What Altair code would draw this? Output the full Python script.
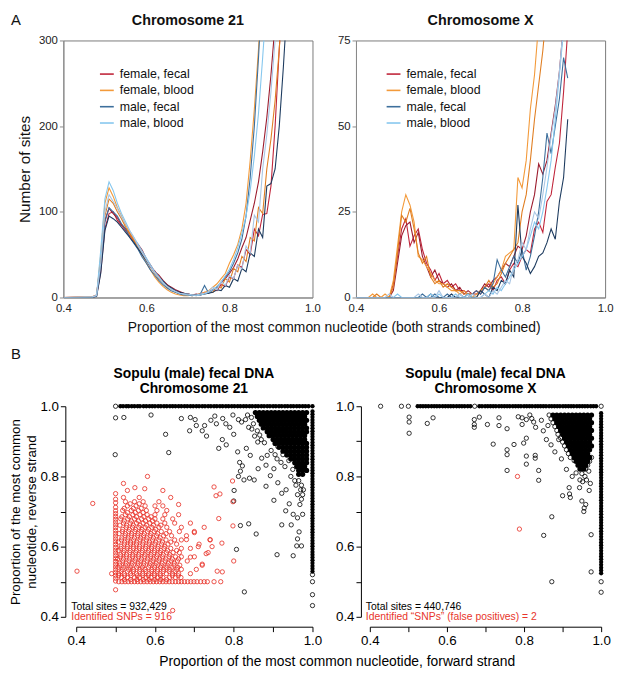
import altair as alt
import pandas as pd

FONT = "Liberation Sans"

# ---------------- Panel A: line data ----------------
GROUPS = ["female, fecal", "female, blood", "male, fecal", "male, blood"]
SERIES = ["female, fecal", "female, fecal 2", "female, blood", "female, blood 2",
          "male, fecal", "male, fecal 2", "male, blood", "male, blood 2"]
SERIES_COLORS = ["#c0253a", "#9c1c2e", "#f39a3a", "#e07e22",
                 "#3d6f9c", "#1d3b5f", "#86c7ee", "#a9c6e4"]

X21 = [0.40, 0.47, 0.48, 0.49, 0.50, 0.51, 0.52, 0.53, 0.54, 0.55, 0.56, 0.57, 0.58,
       0.59, 0.60, 0.61, 0.62, 0.63, 0.64, 0.65, 0.66, 0.67, 0.68, 0.69, 0.70, 0.71,
       0.72, 0.73, 0.74, 0.75, 0.76, 0.77, 0.78, 0.79, 0.80, 0.81, 0.82, 0.83, 0.84,
       0.85, 0.86, 0.87, 0.88, 0.89, 0.90, 0.91, 0.92, 0.93, 0.94, 0.95]
C21_FF1 = [0,0,2,30,80, 98,100,90,84,78, 72,66,60,50,44, 35,31,22,18,15, 10,8,6,5,4,
           3,3,4,6,5, 9,8,15,13,24, 22,38,35,56,50, 80,72,97,98,130, 200,290,380,460,540]
C21_FF2 = [0,1,3,45,90, 104,98,93,85,80, 75,68,62,55,45, 38,30,26,20,15, 12,9,7,5,4,
           3,4,3,5,7, 9,12,17,22,28, 35,45,58,70,90, 110,135,170,210,260, 320,400,480,560,640]
C21_FB1 = [0,1,2,50,110, 128,118,105,95,85, 76,68,58,50,40, 32,24,18,13,9, 6,4,3,2,2,
           3,2,4,6,8, 12,16,22,28,40, 50,62,80,110,160, 220,290,380,480,580, 680,780,880,980,1080]
C21_FB2 = [0,0,3,42,95, 115,110,100,92,82, 74,66,60,52,44, 36,28,22,17,12, 9,6,5,4,3,
           2,3,5,4,7, 6,13,11,22,18, 34,30,48,42,70, 66,105,98,150,185, 230,290,360,440,520]
C21_MF1 = [0,0,2,38,88, 105,100,95,86,80, 70,63,56,47,40, 32,26,20,15,11, 8,6,4,3,3,
           2,3,4,14,5, 9,12,18,24,30, 40,52,68,95,140, 200,280,370,460,560, 660,760,860,960,1060]
C21_MF2 = [0,0,1,28,78, 95,92,88,82,76, 70,64,57,50,43, 36,30,24,19,14, 11,8,6,5,4,
           3,3,3,4,5, 6,9,8,14,12, 22,19,34,30,52, 48,80,70,130,133, 150,200,270,350,440]
C21_MB1 = [0,0,3,55,115, 135,125,110,98,88, 78,70,62,54,46, 38,30,24,18,13, 10,7,5,4,3,
           3,2,3,4,6, 9,13,18,25,33, 44,58,75,95,125, 165,215,280,350,430, 510,600,690,780,870]
C21_MB2 = [0,1,2,40,100, 120,112,104,94,86, 78,70,60,52,44, 36,29,23,17,13, 9,7,5,4,4,
           3,3,4,5,7, 12,9,19,14,26, 22,38,33,60,52, 96,88,150,190,240, 300,370,450,530,610]

XX = [0.40, 0.43, 0.44, 0.45, 0.46, 0.47, 0.48, 0.49, 0.50, 0.51, 0.52, 0.53, 0.54,
      0.55, 0.56, 0.57, 0.58, 0.59, 0.60, 0.61, 0.62, 0.63, 0.64, 0.65, 0.66, 0.67,
      0.68, 0.69, 0.70, 0.71, 0.72, 0.73, 0.74, 0.75, 0.76, 0.77, 0.78, 0.79, 0.80,
      0.81, 0.82, 0.83, 0.84, 0.85, 0.86, 0.87, 0.88, 0.89, 0.90, 0.91]
CX_FF1 = [0,0,0,0,0, 0,0,4,12,20, 23,15,18,20,14, 10,8,5,7,4, 5,3,4,2,2,
          1,1,2,1,3, 4,2,5,6,4, 8,10,9,12,14, 13,20,22,19,28, 30,38,45,60,78]
CX_FF2 = [0,0,0,0,0, 0,0,2,10,18, 21,22,16,19,12, 9,6,8,5,4, 3,4,2,3,1,
          2,1,1,2,4, 3,5,6,8,10, 9,12,15,14,18, 25,30,39,36,40, 48,56,66,80,95]
CX_FB1 = [0,0,1,0,0, 1,0,5,15,25, 30,27,22,12,11, 9,7,5,4,4, 3,2,2,1,2,
          1,0,1,2,3, 2,4,6,8,12, 13,14,35,32,40, 55,65,80,95,110, 130,150,170,190,210]
CX_FB2 = [0,0,0,1,0, 0,0,3,13,24, 22,26,20,13,10, 12,6,4,5,3, 4,3,2,2,1,
          1,1,0,2,3, 5,3,4,7,10, 12,14,16,25,30, 40,52,62,72,85, 100,115,130,145,160]
CX_MF1 = [0,0,0,0,0, 0,0,0,0,0, 0,0,0,0,1, 0,0,1,0,0, 1,0,0,1,0,
          0,1,2,1,3, 2,4,11,8,6, 9,12,10,14,8, 12,18,25,35,48, 42,50,58,70,64]
CX_MF2 = [0,0,0,0,0, 0,0,0,0,0, 0,0,0,0,0, 0,1,0,0,0, 0,1,0,0,0,
          1,0,0,2,1, 0,3,2,5,4, 8,6,27,12,10, 7,9,12,13,16, 20,17,28,35,52]
CX_MB1 = [0,0,0,0,0, 0,0,0,1,0, 0,0,0,0,0, 0,1,0,1,0, 0,0,1,0,0,
          1,0,0,0,1, 2,1,3,2,4, 6,8,10,12,14, 18,22,20,25,32, 40,52,65,78,90]
CX_MB2 = [0,0,0,0,0, 0,1,0,0,0, 0,0,0,1,0, 0,0,0,2,0, 0,0,0,1,0,
          0,1,0,0,1, 0,2,1,3,5, 4,9,11,16,14, 20,25,23,30,38, 47,55,66,80,95]

# ---------------- Panel B: scatter data ----------------
B_TICKS = [0.4, 0.5, 0.6, 0.7, 0.8, 0.9, 1.0]

C21_TOP_X = [0.512, 0.519, 0.527, 0.533, 0.541, 0.548, 0.556, 0.562, 0.571, 0.578,
             0.586, 0.593, 0.600, 0.608, 0.615, 0.623, 0.630, 0.638, 0.645, 0.652, 0.660,
             0.667, 0.675, 0.682, 0.690, 0.697, 0.705, 0.712, 0.720, 0.727, 0.735, 0.742,
             0.750, 0.757, 0.765, 0.772, 0.780, 0.787, 0.795, 0.802, 0.810, 0.817, 0.825,
             0.832, 0.840, 0.847, 0.855, 0.862, 0.870, 0.877, 0.885, 0.892, 0.900, 0.907,
             0.915, 0.922, 0.930, 0.937, 0.945, 0.952, 0.960, 0.967, 0.975, 0.982, 0.990, 1.000]
C21_RIGHT_Y = [0.985, 0.977, 0.969, 0.961, 0.953, 0.945, 0.937, 0.929, 0.921, 0.913, 0.905,
               0.897, 0.889, 0.881, 0.873, 0.865, 0.857, 0.849, 0.841, 0.833, 0.825, 0.817,
               0.809, 0.801, 0.793, 0.785, 0.777, 0.769, 0.761, 0.753, 0.745, 0.737, 0.729,
               0.721, 0.713, 0.705, 0.697, 0.689, 0.681, 0.673, 0.665, 0.657, 0.649, 0.641,
               0.633, 0.625, 0.617, 0.609, 0.601, 0.593, 0.585, 0.577, 0.569, 0.561, 0.553,
               0.545, 0.537, 0.529]
C21_DENSE = [
    (0.982, [0.855, 0.865, 0.875, 0.885, 0.895, 0.905, 0.915, 0.925, 0.935, 0.945, 0.955, 0.965, 0.975, 0.985]),
    (0.971, [0.860, 0.870, 0.880, 0.890, 0.900, 0.910, 0.920, 0.930, 0.940, 0.950, 0.960, 0.970, 0.980]),
    (0.960, [0.865, 0.875, 0.885, 0.895, 0.905, 0.915, 0.925, 0.935, 0.945, 0.955, 0.965, 0.975, 0.985]),
    (0.949, [0.870, 0.880, 0.890, 0.900, 0.910, 0.920, 0.930, 0.940, 0.950, 0.960, 0.970, 0.980]),
    (0.938, [0.875, 0.885, 0.895, 0.905, 0.915, 0.925, 0.935, 0.945, 0.955, 0.965, 0.975, 0.985]),
    (0.927, [0.885, 0.895, 0.905, 0.915, 0.925, 0.935, 0.945, 0.955, 0.965, 0.975, 0.985]),
    (0.916, [0.890, 0.900, 0.910, 0.920, 0.930, 0.940, 0.950, 0.960, 0.970, 0.980]),
    (0.905, [0.900, 0.910, 0.920, 0.930, 0.940, 0.950, 0.960, 0.970, 0.980]),
    (0.894, [0.905, 0.915, 0.925, 0.935, 0.945, 0.955, 0.965, 0.975, 0.985]),
    (0.883, [0.915, 0.925, 0.935, 0.945, 0.955, 0.965, 0.975, 0.985]),
    (0.872, [0.925, 0.935, 0.945, 0.955, 0.965, 0.975, 0.985]),
    (0.861, [0.935, 0.945, 0.955, 0.965, 0.975, 0.985]),
    (0.850, [0.945, 0.955, 0.965, 0.975, 0.985]),
    (0.839, [0.955, 0.965, 0.975, 0.985]),
    (0.828, [0.960, 0.970, 0.980]),
    (0.817, [0.965, 0.975, 0.985]),
    (0.806, [0.965, 0.975]),
]
C21_OTHER = [(0.500, 1.000), (1.000, 0.520), (1.000, 0.500), (1.000, 0.463), (1.000, 0.432),
             (0.499, 0.862), (0.500, 0.967), (0.521, 0.968), (0.590, 0.975), (0.627, 0.920),
             (0.635, 0.868), (0.667, 0.965), (0.690, 0.968), (0.702, 0.962), (0.720, 0.930),
             (0.726, 0.945), (0.731, 0.915), (0.742, 0.960), (0.752, 0.972), (0.756, 0.950),
             (0.762, 0.880), (0.771, 0.905), (0.781, 0.890), (0.790, 0.940), (0.800, 0.920),
             (0.810, 0.870), (0.815, 0.840), (0.822, 0.830), (0.817, 0.815), (0.812, 0.800),
             (0.801, 0.760), (0.826, 0.790), (0.840, 0.795), (0.852, 0.790), (0.862, 0.822),
             (0.871, 0.852), (0.882, 0.832), (0.893, 0.802), (0.902, 0.822), (0.912, 0.782),
             (0.922, 0.752), (0.933, 0.762), (0.941, 0.722), (0.932, 0.702), (0.951, 0.692),
             (0.962, 0.682), (0.946, 0.662), (0.962, 0.622), (0.960, 0.602), (0.972, 0.602),
             (0.951, 0.574), (0.910, 0.577), (0.857, 0.636), (0.838, 0.665), (0.817, 0.660),
             (0.807, 0.592), (0.827, 0.471), (0.800, 0.730), (0.842, 0.860), (0.780, 0.950),
             (0.832, 0.880), (0.882, 0.772), (0.902, 0.732), (0.922, 0.662), (0.966, 0.642),
             (0.975, 0.692), (0.820, 0.955), (0.835, 0.975), (0.846, 0.935), (0.853, 0.915),
             (0.861, 0.898), (0.845, 0.968), (0.812, 0.962), (0.798, 0.975), (0.772, 0.965),
             (0.705, 0.945), (0.688, 0.930), (0.830, 0.962), (0.866, 0.918), (0.878, 0.896),
             (0.895, 0.874), (0.912, 0.885), (0.910, 0.850), (0.925, 0.862), (0.940, 0.845),
             (0.930, 0.828), (0.950, 0.820), (0.945, 0.800), (0.955, 0.788), (0.965, 0.788),
             (0.958, 0.775), (0.972, 0.775), (0.970, 0.762), (0.977, 0.762), (0.962, 0.748),
             (0.975, 0.748), (0.972, 0.735), (0.968, 0.720), (0.885, 0.860), (0.905, 0.862),
             (0.920, 0.840), (0.870, 0.905), (0.860, 0.930), (0.850, 0.950), (0.838, 0.940)]
C21_SNP_COL_Y = [0.502, 0.510, 0.518, 0.526, 0.534, 0.542, 0.550, 0.558, 0.566, 0.574, 0.582,
                 0.590, 0.598, 0.606, 0.614, 0.622, 0.630, 0.638, 0.646, 0.654, 0.662, 0.670,
                 0.678, 0.686, 0.694, 0.702, 0.712, 0.725, 0.735, 0.751]
C21_SNP_ROW_X = [0.508, 0.516, 0.524, 0.532, 0.540, 0.548, 0.556, 0.564, 0.572, 0.580, 0.588,
                 0.596, 0.604, 0.612, 0.620, 0.628, 0.636, 0.644, 0.652, 0.660, 0.667, 0.675,
                 0.683, 0.691, 0.699, 0.707, 0.716, 0.725, 0.733, 0.750, 0.767]
C21_SNP_ROWS = [
    (0.506, [0.522, 0.538, 0.554, 0.570, 0.585, 0.600, 0.615, 0.630]),
    (0.512, [0.515, 0.530, 0.548, 0.561, 0.577, 0.590, 0.606, 0.620, 0.637, 0.652, 0.666]),
    (0.517, [0.508, 0.523, 0.539, 0.555, 0.569, 0.583, 0.599, 0.614, 0.644, 0.659]),
    (0.523, [0.508, 0.522, 0.538, 0.553, 0.569, 0.584, 0.598, 0.613, 0.629, 0.645, 0.660, 0.690]),
    (0.529, [0.514, 0.530, 0.545, 0.561, 0.577, 0.592, 0.606, 0.621, 0.636, 0.651]),
    (0.535, [0.517, 0.533, 0.546, 0.562, 0.575, 0.592, 0.607, 0.622, 0.638, 0.655, 0.667, 0.705]),
    (0.541, [0.506, 0.521, 0.537, 0.553, 0.568, 0.584, 0.599, 0.614, 0.628, 0.643, 0.658]),
    (0.547, [0.510, 0.525, 0.540, 0.556, 0.571, 0.586, 0.600, 0.616, 0.631, 0.648, 0.663, 0.720]),
    (0.553, [0.511, 0.527, 0.542, 0.557, 0.572, 0.588, 0.603, 0.618, 0.634, 0.649]),
    (0.559, [0.518, 0.534, 0.549, 0.564, 0.580, 0.595, 0.610, 0.626, 0.641, 0.657, 0.682]),
    (0.565, [0.505, 0.520, 0.536, 0.551, 0.566, 0.582, 0.597, 0.612, 0.628, 0.644, 0.660]),
    (0.571, [0.512, 0.527, 0.543, 0.558, 0.573, 0.589, 0.604, 0.619, 0.636, 0.652, 0.667, 0.700]),
    (0.577, [0.513, 0.528, 0.544, 0.559, 0.575, 0.590, 0.606, 0.621, 0.638]),
    (0.583, [0.520, 0.536, 0.551, 0.567, 0.582, 0.598, 0.613, 0.629, 0.646, 0.662, 0.735]),
    (0.589, [0.507, 0.522, 0.537, 0.553, 0.568, 0.584, 0.599, 0.615, 0.632, 0.655]),
    (0.595, [0.513, 0.529, 0.545, 0.560, 0.576, 0.591, 0.607, 0.623, 0.640, 0.667, 0.690]),
    (0.601, [0.514, 0.530, 0.545, 0.561, 0.577, 0.592, 0.608, 0.625]),
    (0.607, [0.522, 0.538, 0.553, 0.569, 0.585, 0.600, 0.617, 0.633, 0.655, 0.712]),
    (0.613, [0.507, 0.523, 0.538, 0.554, 0.570, 0.586, 0.602, 0.619, 0.640]),
    (0.619, [0.515, 0.531, 0.546, 0.562, 0.578, 0.594, 0.610, 0.628, 0.650, 0.667, 0.740]),
    (0.625, [0.516, 0.532, 0.548, 0.564, 0.580, 0.596, 0.613]),
    (0.631, [0.524, 0.540, 0.556, 0.571, 0.588, 0.604, 0.622, 0.642, 0.680]),
    (0.637, [0.509, 0.525, 0.541, 0.557, 0.573, 0.590, 0.607, 0.628]),
    (0.643, [0.517, 0.533, 0.549, 0.565, 0.581, 0.598, 0.616, 0.637, 0.662, 0.700]),
    (0.649, [0.518, 0.535, 0.551, 0.567, 0.584, 0.602]),
    (0.655, [0.527, 0.543, 0.559, 0.575, 0.592, 0.610, 0.630, 0.667, 0.725]),
    (0.661, [0.511, 0.528, 0.545, 0.562, 0.579, 0.596, 0.615]),
    (0.667, [0.520, 0.537, 0.553, 0.570, 0.587, 0.605, 0.625, 0.650, 0.690]),
    (0.673, [0.522, 0.540, 0.558, 0.576, 0.594]),
    (0.679, [0.513, 0.531, 0.548, 0.566, 0.584, 0.600, 0.620, 0.645]),
    (0.685, [0.516, 0.535, 0.553, 0.572, 0.590]),
    (0.691, [0.525, 0.544, 0.562, 0.580, 0.600, 0.625, 0.660]),
    (0.697, [0.530, 0.550, 0.570]),
    (0.703, [0.518, 0.540, 0.558, 0.578, 0.605, 0.630]),
    (0.709, [0.522, 0.545, 0.565]),
    (0.716, [0.530, 0.552, 0.575, 0.600, 0.620]),
    (0.722, [0.537, 0.560]),
    (0.728, [0.525, 0.548, 0.570, 0.610]),
    (0.740, [0.520, 0.560]),
]
C21_SNP_OTHER = [(0.402, 0.530), (0.442, 0.723), (0.490, 0.523), (0.500, 0.477), (0.645, 0.418),
                 (0.581, 0.800), (0.549, 0.768), (0.574, 0.765), (0.750, 0.770), (0.797, 0.787),
                 (0.798, 0.728), (0.765, 0.750), (0.755, 0.745), (0.798, 0.659), (0.800, 0.559),
                 (0.758, 0.530), (0.771, 0.528), (0.762, 0.680), (0.740, 0.620), (0.730, 0.580),
                 (0.720, 0.550), (0.745, 0.600), (0.770, 0.610), (0.700, 0.640), (0.710, 0.600),
                 (0.680, 0.620), (0.690, 0.570), (0.660, 0.720), (0.640, 0.740), (0.620, 0.760),
                 (0.530, 0.760), (0.520, 0.780)]

CX_TOP_X = [0.524, 0.531, 0.538, 0.545, 0.552, 0.560, 0.567, 0.574,
            0.581, 0.589, 0.596, 0.603, 0.610, 0.617, 0.625, 0.632, 0.639, 0.646, 0.654,
            0.661, 0.684, 0.691, 0.699, 0.706, 0.713, 0.720, 0.727, 0.735, 0.742,
            0.749, 0.756, 0.763, 0.771, 0.778, 0.785, 0.792, 0.800, 0.807, 0.814, 0.821,
            0.829, 0.836, 0.843, 0.850, 0.857, 0.865, 0.872, 0.879, 0.886, 0.893, 0.901,
            0.908, 0.915, 0.922, 0.929, 0.937, 0.944, 0.951, 0.958, 0.965, 0.973, 0.980,
            0.987]
CX_RIGHT_Y = [0.980, 0.972, 0.964, 0.956, 0.948, 0.940, 0.932, 0.924, 0.916, 0.908, 0.900,
              0.892, 0.884, 0.876, 0.868, 0.860, 0.852, 0.844, 0.836, 0.828, 0.820, 0.812,
              0.804, 0.796, 0.788, 0.780, 0.772, 0.764, 0.756, 0.748, 0.740, 0.732, 0.724,
              0.716, 0.708, 0.700, 0.692, 0.684, 0.676, 0.668, 0.660, 0.652, 0.644, 0.636,
              0.628, 0.620, 0.612, 0.604, 0.596, 0.588, 0.580, 0.572, 0.564, 0.556, 0.548,
              0.540, 0.532, 0.524]
CX_DENSE = [
    (0.975, [0.875, 0.885, 0.895, 0.905, 0.915, 0.925, 0.935, 0.945, 0.955, 0.965, 0.975]),
    (0.964, [0.880, 0.890, 0.900, 0.910, 0.920, 0.930, 0.940, 0.950, 0.960, 0.970]),
    (0.953, [0.885, 0.895, 0.905, 0.915, 0.925, 0.935, 0.945, 0.955, 0.965, 0.975]),
    (0.942, [0.890, 0.900, 0.910, 0.920, 0.930, 0.940, 0.950, 0.960, 0.970]),
    (0.931, [0.895, 0.905, 0.915, 0.925, 0.935, 0.945, 0.955, 0.965, 0.975]),
    (0.920, [0.900, 0.910, 0.920, 0.930, 0.940, 0.950, 0.960, 0.970]),
    (0.909, [0.905, 0.915, 0.925, 0.935, 0.945, 0.955, 0.965, 0.975]),
    (0.898, [0.910, 0.920, 0.930, 0.940, 0.950, 0.960, 0.970]),
    (0.887, [0.915, 0.925, 0.935, 0.945, 0.955, 0.965, 0.975]),
    (0.876, [0.920, 0.930, 0.940, 0.950, 0.960, 0.970]),
    (0.865, [0.925, 0.935, 0.945, 0.955, 0.965]),
    (0.854, [0.930, 0.940, 0.950, 0.960, 0.970]),
    (0.843, [0.935, 0.945, 0.955, 0.965]),
    (0.832, [0.940, 0.950, 0.960]),
    (0.821, [0.945, 0.955]),
]
CX_OTHER = [(0.428, 1.000), (0.482, 1.000), (0.500, 1.000), (0.672, 1.000), (1.000, 1.000),
            (1.000, 0.500), (1.000, 0.470),
            (0.502, 0.969), (0.502, 0.955), (0.502, 0.923), (0.549, 0.951), (0.564, 0.967),
            (0.671, 0.962), (0.671, 0.948), (0.671, 0.940), (0.684, 0.969), (0.705, 0.948),
            (0.720, 0.892), (0.735, 0.967), (0.735, 0.945), (0.756, 0.936), (0.756, 0.876),
            (0.756, 0.862), (0.756, 0.817), (0.774, 0.891), (0.795, 0.967), (0.795, 0.948),
            (0.799, 0.895), (0.806, 0.909), (0.806, 0.858), (0.806, 0.835), (0.806, 0.962),
            (0.829, 0.860), (0.829, 0.852), (0.838, 0.817), (0.838, 0.789), (0.851, 0.632),
            (0.872, 0.685), (0.872, 0.500), (0.917, 0.768), (0.918, 0.750), (0.920, 0.740),
            (0.944, 0.768), (0.974, 0.528), (0.974, 0.634), (0.960, 0.720), (0.955, 0.700),
            (0.956, 0.710), (0.972, 0.780), (0.969, 0.760), (0.950, 0.730), (0.900, 0.745),
            (0.820, 0.965), (0.825, 0.955), (0.830, 0.940), (0.845, 0.960), (0.850, 0.930),
            (0.858, 0.905), (0.862, 0.945), (0.870, 0.890), (0.880, 0.870), (0.890, 0.905),
            (0.897, 0.850), (0.910, 0.820), (0.925, 0.800), (0.935, 0.810), (0.945, 0.790),
            (0.962, 0.790), (0.968, 0.815), (0.930, 0.845), (0.785, 0.970), (0.815, 0.975),
            (0.865, 0.975), (0.870, 0.964), (0.875, 0.953), (0.880, 0.942), (0.885, 0.931),
            (0.888, 0.920), (0.895, 0.909), (0.900, 0.898), (0.905, 0.887), (0.910, 0.876),
            (0.915, 0.865), (0.920, 0.854), (0.975, 0.854), (0.970, 0.843), (0.965, 0.832),
            (0.960, 0.821), (0.950, 0.808), (0.958, 0.800), (0.952, 0.785)]
CX_SNP = [(0.783, 0.800), (0.788, 0.650)]

SNP_RED = "#e8352b"


def label(text, x, y, size, weight="normal", color="#111", align="center", baseline="middle"):
    return alt.Chart(pd.DataFrame({"t": [text]})).mark_text(
        fontSize=size, fontWeight=weight, color=color, align=align, baseline=baseline, font=FONT
    ).encode(text="t:N", x=alt.value(x), y=alt.value(y))


def line_panel(xs, lines, ymax, yticks, ytitle, legend_x, extra):
    df = pd.DataFrame([{"p": x, "n": v, "s": s}
                       for s, vals in zip(SERIES, lines) for x, v in zip(xs, vals)])
    y_axis = dict(values=yticks, grid=False, domainColor="#8a8a8a", tickColor="#8a8a8a",
                  tickSize=4, labelFontSize=11.5, labelPadding=2, labelColor="#222")
    if ytitle:
        y_axis.update(title=ytitle, titleFontSize=15.5, titleFontWeight="normal",
                      titlePadding=6, titleColor="#111")
    else:
        y_axis.update(title=None)
    lines_ch = alt.Chart(df).mark_line(strokeWidth=1.1, clip=True).encode(
        x=alt.X("p:Q", scale=alt.Scale(domain=[0.4, 1.0], nice=False, zero=False),
                axis=alt.Axis(values=[0.4, 0.6, 0.8, 1.0], format=".1f", title=None, ticks=False,
                              grid=False, domainColor="#8a8a8a", labelFontSize=11.5, labelPadding=5,
                              labelColor="#222", labelFlush=False)),
        y=alt.Y("n:Q", scale=alt.Scale(domain=[0, ymax], nice=False), axis=alt.Axis(**y_axis)),
        color=alt.Color("s:N", scale=alt.Scale(domain=SERIES, range=SERIES_COLORS),
                        legend=alt.Legend(values=GROUPS, orient="none", legendX=legend_x, legendY=26,
                                          title=None, symbolType="stroke", symbolSize=196,
                                          symbolStrokeWidth=1.6, labelFontSize=12.5, rowPadding=1.5,
                                          labelOffset=5, labelColor="#111", labelFont=FONT)),
        detail="s:N",
    )
    return alt.layer(lines_ch, *extra).properties(
        width=252, height=260, view=alt.ViewBackground(stroke="#7a7a7a", strokeWidth=1))


def scatter_panel(top_x, right_y, dense, other, snps, xrange, yoffset, ytitle, extra):
    edge = [{"f": x, "r": 1.0} for x in top_x] + [{"f": 1.0, "r": y} for y in right_y]
    core = [{"f": x, "r": y} for y, xs in dense for x in xs]
    rest = [{"f": x, "r": y} for x, y in other]
    red = [{"f": x, "r": y} for x, y in snps]
    lab = ("indexof(['0.4','0.6','0.8','1.0'], format(datum.value, '.1f')) >= 0 "
           "? format(datum.value, '.1f') : ''")
    common = dict(values=B_TICKS, labelExpr=lab, grid=False, tickColor="black", tickSize=5,
                  labelFontSize=13.5, labelColor="black", labelPadding=2, labelFlush=False,
                  domainColor="black", domainWidth=1)
    xax = alt.Axis(offset=10, title=None, **common)
    y_kw = dict(offset=yoffset, **common)
    if ytitle:
        y_kw.update(title=ytitle, titleFontSize=13.5, titleFontWeight="normal", titlePadding=1,
                    titleLineHeight=17, titleColor="black")
    else:
        y_kw.update(title=None)
    yax = alt.Axis(**y_kw)
    # the x scale covers 0.4-1.0 over a pixel sub-range of the panel (R-style inset axis)
    sx = alt.Scale(domain=[0.4, 1.0], range=xrange, nice=False, zero=False)
    sy = alt.Scale(domain=[0.4, 1.0], nice=False, zero=False)
    enc = dict(x=alt.X("f:Q", scale=sx, axis=xax), y=alt.Y("r:Q", scale=sy, axis=yax))
    l_edge = alt.Chart(pd.DataFrame(edge)).mark_point(
        shape="circle", color="black", filled=True, size=19, strokeWidth=0.8, opacity=1).encode(**enc)
    l_core = alt.Chart(pd.DataFrame(core)).mark_point(
        shape="circle", color="black", filled=True, size=28, strokeWidth=0.8, opacity=1).encode(**enc)
    l_rest = alt.Chart(pd.DataFrame(rest)).mark_point(
        shape="circle", color="black", filled=False, size=19, strokeWidth=0.8, opacity=1).encode(**enc)
    l_red = alt.Chart(pd.DataFrame(red)).mark_point(
        shape="circle", color=SNP_RED, filled=False, size=19, strokeWidth=0.85, opacity=1).encode(**enc)
    return alt.layer(l_edge, l_core, l_rest, l_red, *extra).properties(
        width=252, height=213, view=alt.ViewBackground(stroke=None))


XT1 = "Proportion of the most common nucleotide (both strands combined)"
XT2 = "Proportion of the most common nucleotide, forward strand"

c21 = line_panel(X21, [C21_FF1, C21_FF2, C21_FB1, C21_FB2, C21_MF1, C21_MF2, C21_MB1, C21_MB2],
                 300, [0, 100, 200, 300], "Number of sites", 36,
                 [label("Chromosome 21", 126, -20, 14.5, "bold"),
                  label("A", -53, -21, 15, align="left"),
                  label(XT1, 274, 291, 14)])
cx = line_panel(XX, [CX_FF1, CX_FF2, CX_FB1, CX_FB2, CX_MF1, CX_MF2, CX_MB1, CX_MB2],
                75, [0, 25, 50, 75], None, 30,
                [label("Chromosome X", 126, -20, 14.5, "bold")])

s21 = scatter_panel(C21_TOP_X, C21_RIGHT_Y, C21_DENSE, C21_OTHER,
                    [(0.5, y) for y in C21_SNP_COL_Y] + [(x, 0.5) for x in C21_SNP_ROW_X]
                    + [(x, y) for y, xs in C21_SNP_ROWS for x in xs] + C21_SNP_OTHER,
                    [13, 252], -2,
                    ["Proportion of the most common", "nucleotide, reverse strand"],
                    [label("Sopulu (male) fecal DNA", 132, -33, 14, "bold", "black"),
                     label("Chromosome 21", 132, -17, 14, "bold", "black"),
                     label("B", -53, -53, 15, align="left"),
                     label("Total sites = 932,429", 8, 203, 10.5, color="black", align="left"),
                     label("Identified SNPs = 916", 8, 213, 10.5, color=SNP_RED, align="left"),
                     label(XT2, 277, 259, 14, color="black")])
sxp = scatter_panel(CX_TOP_X, CX_RIGHT_Y, CX_DENSE, CX_OTHER, CX_SNP,
                    [14, 248], -5, None,
                    [label("Sopulu (male) fecal DNA", 131, -33, 14, "bold", "black"),
                     label("Chromosome X", 131, -17, 14, "bold", "black"),
                     label("Total sites = 440,746", 10, 203, 10.5, color="black", align="left"),
                     label("Identified \u201cSNPs\u201d (false positives) = 2", 10, 213, 10.5,
                           color=SNP_RED, align="left")])

chart = alt.ConcatChart(
    concat=[c21, cx, s21, sxp], columns=2, bounds="flush",
    spacing={"row": 110, "column": 44},
).resolve_scale(color="independent").properties(
    padding={"left": 0, "top": 0, "right": 0, "bottom": 0}
).configure(font=FONT).configure_view(stroke=None)

chart.save("out.html", embed_options={"renderer": "svg", "actions": False})
